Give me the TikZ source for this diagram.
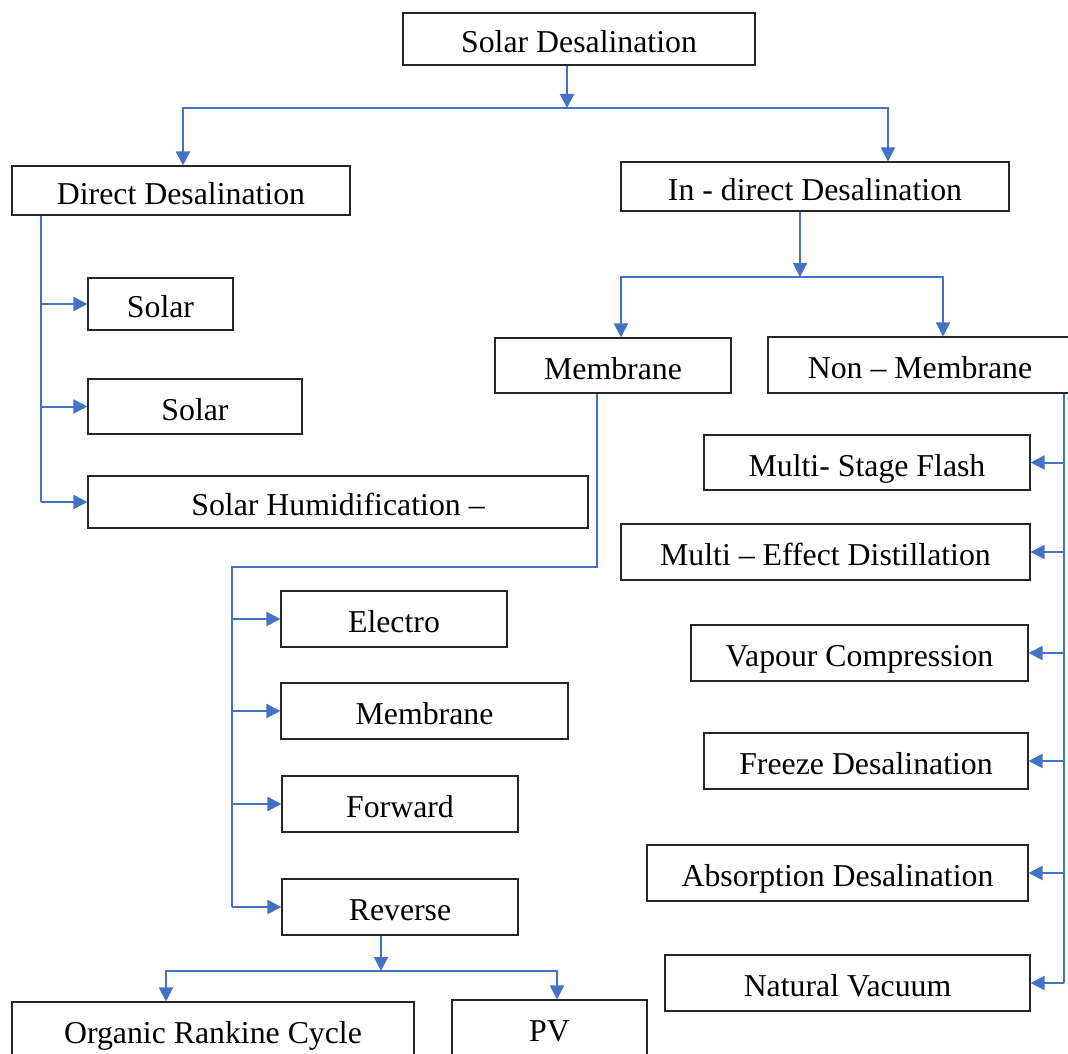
\documentclass[tikz,border=0pt]{standalone}
\usepackage{fontspec}
\setmainfont{Liberation Serif}
\usetikzlibrary{arrows.meta}
\definecolor{lblue}{RGB}{68,114,196}
\newcommand\boxfont{\fontsize{31.8}{37}\selectfont}
\begin{document}
\begin{tikzpicture}[x=1pt,y=-1pt,
  box/.style={draw=black!85, line width=1.1pt, inner sep=0pt, text height=27pt, text depth=0pt, font=\boxfont},
  conn/.style={draw=lblue, line width=2pt},
  arr/.style={conn, -{Triangle[length=14pt,width=14pt]}}]
\useasboundingbox (0,0) rectangle (1068,1054);
% boxes
\node[box, minimum width=352pt, minimum height=52pt] (sd) at (579,39) {Solar Desalination};
\node[box, minimum width=338pt, minimum height=49pt] (dd) at (181,190.5) {Direct Desalination};
\node[box, minimum width=388pt, minimum height=49pt] (id) at (815,186.5) {In - direct Desalination};
\node[box, minimum width=145pt, minimum height=52pt] (s1) at (160.5,304) {Solar};
\node[box, minimum width=214pt, minimum height=55pt] (s2) at (195,406.5) {Solar};
\node[box, minimum width=500pt, minimum height=52pt] (sh) at (338,502) {Solar Humidification –};
\node[box, minimum width=236pt, minimum height=55pt] (mem) at (613,365.5) {Membrane};
\node[box, minimum width=304pt, minimum height=56pt] (nm) at (920,365) {Non – Membrane};
\node[box, minimum width=326pt, minimum height=55pt] (ms) at (867,462.5) {Multi- Stage Flash};
\node[box, minimum width=409pt, minimum height=56pt] (me) at (825.5,552) {Multi – Effect Distillation};
\node[box, minimum width=337pt, minimum height=56pt] (vc) at (859.5,653) {Vapour Compression};
\node[box, minimum width=324pt, minimum height=56pt] (fd) at (866,761) {Freeze Desalination};
\node[box, minimum width=381pt, minimum height=56pt] (ad) at (837.5,873) {Absorption Desalination};
\node[box, minimum width=365pt, minimum height=56pt] (nv) at (847.5,983) {Natural Vacuum};
\node[box, minimum width=226pt, minimum height=56pt] (el) at (394,619) {Electro};
\node[box, minimum width=287pt, minimum height=56pt] (m2) at (424.5,711) {Membrane};
\node[box, minimum width=236pt, minimum height=56pt] (fw) at (400,804) {Forward};
\node[box, minimum width=236pt, minimum height=56pt] (rv) at (400,907) {Reverse};
\node[box, minimum width=402pt, minimum height=56pt] (orc) at (213,1030) {Organic Rankine Cycle};
\node[box, minimum width=195pt, minimum height=56pt] (pv) at (549.5,1028) {PV};
% junction coordinates
\coordinate (j1) at (567,108);
\coordinate (jl) at (183,108);
\coordinate (jr) at (888,108);
\coordinate (dtx) at (41,0);
\coordinate (j2) at (800,277);
\coordinate (jm) at (621,277);
\coordinate (jn) at (943,277);
\coordinate (mt) at (597,567);
\coordinate (mt2) at (232,567);
\coordinate (j3) at (381,971);
\coordinate (jo) at (166,971);
\coordinate (jp) at (557,971);
\coordinate (ntx) at (1064,0);
% top level
\draw[arr] (sd.south -| j1) -- (j1);
\draw[arr] (j1) -- (jl) -- (jl |- dd.north);
\draw[arr] (j1) -- (jr) -- (jr |- id.north);
% direct
\draw[conn] (dd.south -| dtx) -- (dtx |- sh.west);
\draw[arr] (dtx |- s1.west) -- (s1.west);
\draw[arr] (dtx |- s2.west) -- (s2.west);
\draw[arr] (dtx |- sh.west) -- (sh.west);
% indirect
\draw[arr] (id.south -| j2) -- (j2);
\draw[arr] (j2) -- (jm) -- (jm |- mem.north);
\draw[arr] (j2) -- (jn) -- (jn |- nm.north);
% membrane
\draw[conn] (mem.south -| mt) -- (mt) -- (mt2) -- (mt2 |- rv.west);
\draw[arr] (mt2 |- el.west) -- (el.west);
\draw[arr] (mt2 |- m2.west) -- (m2.west);
\draw[arr] (mt2 |- fw.west) -- (fw.west);
\draw[arr] (mt2 |- rv.west) -- (rv.west);
% reverse
\draw[arr] (rv.south -| j3) -- (j3);
\draw[arr] (j3) -- (jo) -- (jo |- orc.north);
\draw[arr] (j3) -- (jp) -- (jp |- pv.north);
% non-membrane
\draw[conn] (nm.south -| ntx) -- (ntx |- nv.east);
\draw[arr] (ntx |- ms.east) -- (ms.east);
\draw[arr] (ntx |- me.east) -- (me.east);
\draw[arr] (ntx |- vc.east) -- (vc.east);
\draw[arr] (ntx |- fd.east) -- (fd.east);
\draw[arr] (ntx |- ad.east) -- (ad.east);
\draw[arr] (ntx |- nv.east) -- (nv.east);
\end{tikzpicture}
\end{document}
